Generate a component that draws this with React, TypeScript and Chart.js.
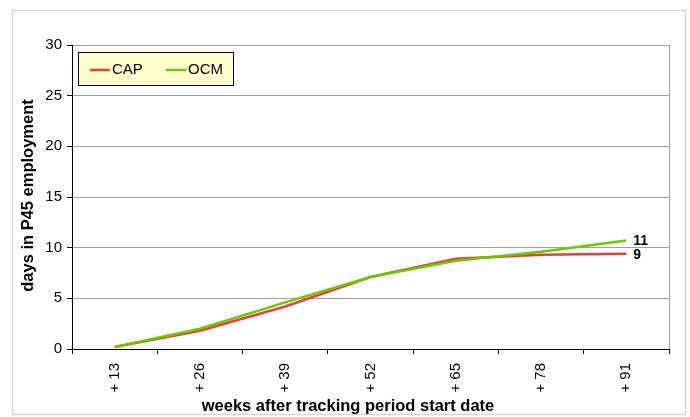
import React, { useEffect, useRef } from "react";
import { Chart, registerables } from "chart.js";

Chart.register(...registerables);

const categories = ["+ 13", "+ 26", "+ 39", "+ 52", "+ 65", "+ 78", "+ 91"];
const capValues = [0.2, 1.8, 4.2, 7.1, 8.9, 9.3, 9.4];
const ocmValues = [0.2, 2.0, 4.6, 7.1, 8.7, 9.6, 10.7];
const seriesNames = ["CAP", "OCM"];
const seriesColors = ["#EE3B3B", "#66CC00"];
const yTitle = "days in P45 employment";
const xTitle = "weeks after tracking period start date";

const FONT = "'Liberation Sans', Arial, sans-serif";

const decorPlugin = {
  id: "decor",
  beforeDraw(chart: any) {
    const ctx = chart.ctx;
    ctx.save();
    ctx.fillStyle = "#ffffff";
    ctx.fillRect(0, 0, chart.width, chart.height);
    ctx.strokeStyle = "#DCD7CF";
    ctx.lineWidth = 1.5;
    ctx.strokeRect(12.5, 10.5, 673, 404);
    ctx.restore();
  },
  afterDraw(chart: any) {
    const ctx = chart.ctx;
    const area = chart.chartArea;
    ctx.save();
    // right border of plot area
    ctx.strokeStyle = "#A0A0A0";
    ctx.lineWidth = 1;
    ctx.beginPath();
    ctx.moveTo(Math.round(area.right) + 0.5, area.top);
    ctx.lineTo(Math.round(area.right) + 0.5, area.bottom);
    ctx.stroke();

    // end labels
    ctx.fillStyle = "#000";
    ctx.font = `bold 14px ${FONT}`;
    ctx.textBaseline = "middle";
    ctx.textAlign = "left";
    chart.data.datasets.forEach((ds: any, i: number) => {
      const meta = chart.getDatasetMeta(i);
      const pt = meta.data[meta.data.length - 1];
      const v = ds.data[ds.data.length - 1];
      ctx.fillText(String(Math.round(v)), pt.x + 7, pt.y + 1);
    });

    // axis titles
    ctx.font = `bold 16.5px ${FONT}`;
    ctx.textAlign = "center";
    ctx.fillText(xTitle, 348, 406);
    ctx.save();
    ctx.translate(28, 195.5);
    ctx.rotate(-Math.PI / 2);
    ctx.fillText(yTitle, 0, 0);
    ctx.restore();

    // legend
    ctx.fillStyle = "#FFFFCC";
    ctx.fillRect(78, 52, 155, 33);
    ctx.strokeStyle = "#000";
    ctx.lineWidth = 1;
    ctx.strokeRect(78.5, 52.5, 155, 33);
    const items = [
      { x: 90, tx: 112 },
      { x: 166, tx: 188 },
    ];
    ctx.font = `15px ${FONT}`;
    ctx.textAlign = "left";
    chart.data.datasets.forEach((ds: any, i: number) => {
      const it = items[i];
      ctx.strokeStyle = ds.borderColor;
      ctx.lineWidth = 2.5;
      ctx.beginPath();
      ctx.moveTo(it.x, 70);
      ctx.lineTo(it.x + 20, 70);
      ctx.stroke();
      ctx.fillStyle = "#000";
      ctx.fillText(ds.label, it.tx, 70);
    });
    ctx.restore();
  },
};

export default function App() {
  const ref = useRef<HTMLCanvasElement | null>(null);
  useEffect(() => {
    if (!ref.current) return;
    const chart = new Chart(ref.current, {
      type: "line",
      data: {
        labels: categories,
        datasets: [
          {
            label: seriesNames[0],
            data: capValues,
            borderColor: seriesColors[0],
            backgroundColor: seriesColors[0],
            borderWidth: 2.5,
            pointRadius: 0,
            tension: 0,
            order: 1,
          },
          {
            label: seriesNames[1],
            data: ocmValues,
            borderColor: seriesColors[1],
            backgroundColor: seriesColors[1],
            borderWidth: 2.5,
            pointRadius: 0,
            tension: 0,
            order: 0,
          },
        ],
      },
      options: {
        responsive: false,
        animation: false,
        devicePixelRatio: 1,
        layout: { padding: { left: 0, top: 45, right: 21, bottom: 0 } },
        plugins: {
          legend: { display: false },
          tooltip: { enabled: false },
        },
        scales: {
          x: {
            type: "category",
            offset: true,
            grid: {
              offset: true,
              drawOnChartArea: false,
              drawTicks: true,
              tickLength: 5,
              tickColor: "#000",
            },
            border: { color: "#000", width: 1 },
            ticks: {
              minRotation: 90,
              maxRotation: 90,
              padding: 9,
              color: "#000",
              font: { family: FONT, size: 15 },
            },
            afterFit(scale: any) {
              scale.height = 68;
            },
          },
          y: {
            min: 0,
            max: 30,
            ticks: {
              stepSize: 5,
              padding: 5,
              color: "#000",
              font: { family: FONT, size: 15 },
            },
            grid: {
              color: "#A0A0A0",
              tickColor: "#000",
              tickLength: 5,
              lineWidth: 1,
            },
            border: { color: "#000", width: 1 },
            afterFit(scale: any) {
              scale.width = 72;
            },
          },
        },
      },
      plugins: [decorPlugin],
    });
    return () => chart.destroy();
  }, []);
  return (
    <div style={{ position: "absolute", left: 0, top: 0, width: 690, height: 417 }}>
      <canvas ref={ref} width={690} height={417} style={{ width: 690, height: 417, display: "block" }} />
    </div>
  );
}
